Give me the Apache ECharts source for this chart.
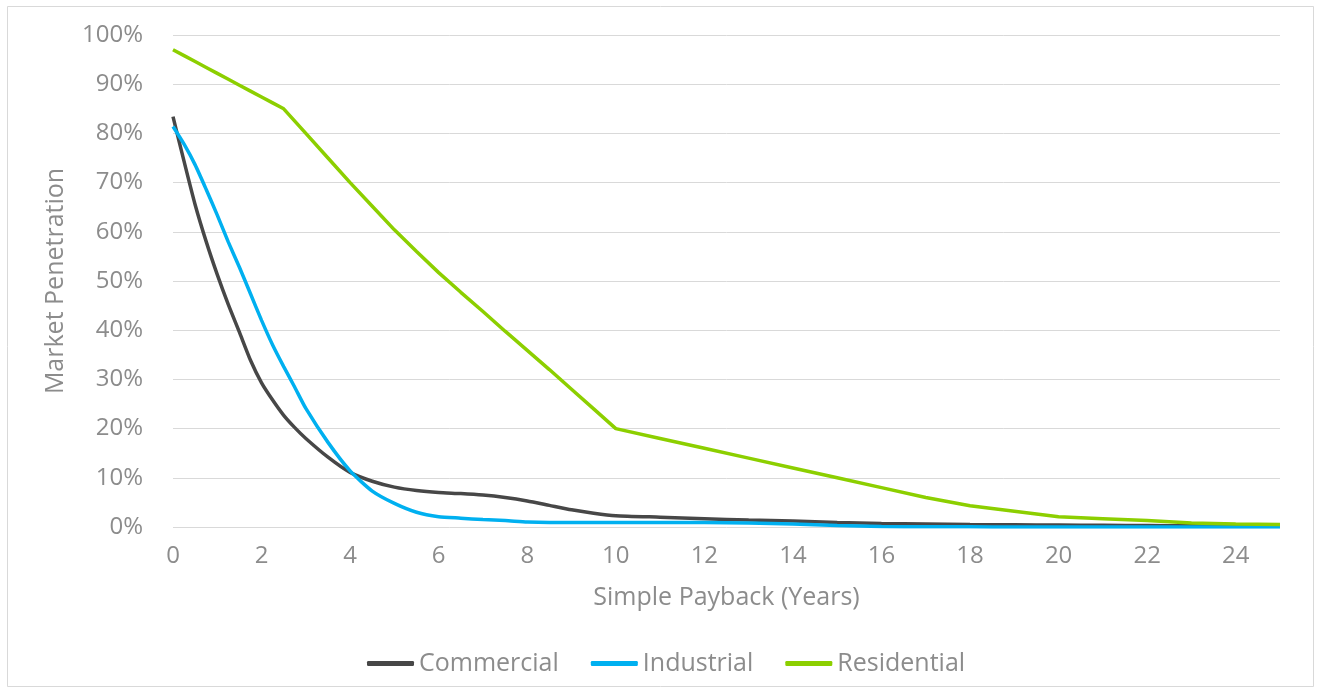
<!DOCTYPE html>
<html>
<head>
<meta charset="utf-8">
<script src="https://cdn.jsdelivr.net/npm/echarts@6/dist/echarts.min.js"></script>
<style>
html,body{margin:0;padding:0;background:#fff;}
#chart{width:1317px;height:692px;}
</style>
</head>
<body>
<div id="chart"></div>
<script>
// Simple payback (years)
const xYears = [0,0.25,0.5,0.75,1,1.25,1.5,1.75,2,2.25,2.5,2.75,3,3.5,4,4.5,5,5.5,6,6.5,7,7.5,8,8.5,9,9.5,10,11,12,13,14,15,16,17,18,19,20,21,22,23,24,25];
// Market penetration (%)
const commercial  = [83.4,74.3,65.5,58,51.3,45.2,39.6,33.9,29.3,25.8,22.7,20.2,18.0,14.2,11.1,9.3,8.1,7.4,7.0,6.8,6.5,6.0,5.3,4.4,3.5,2.8,2.3,2.0,1.7,1.4,1.2,0.9,0.7,0.6,0.5,0.45,0.4,0.35,0.3,0.25,0.2,0.2];
const industrial  = [81.4,77.8,73.6,68.6,63.4,57.9,52.8,47.4,42,37,32.6,28.4,24.1,17.2,11.4,7.3,4.8,3.0,2.1,1.8,1.5,1.3,1.0,0.9,0.9,0.9,0.9,0.9,0.9,0.8,0.6,0.3,0.1,0.05,0.05,0,0,0,0,0,0,0];
const residential = [97,95.8,94.6,93.4,92.2,91,89.8,88.6,87.4,86.2,85,82.5,80,75,70,65.2,60.4,56,51.7,47.7,43.8,39.8,35.9,32,28,24,20,18,16,14,12,10,8,6,4.3,3.2,2.1,1.7,1.3,0.8,0.6,0.5];
const seriesNames = ['Commercial','Industrial','Residential'];
const seriesColors = ['#474747','#00B0F0','#8CCF00'];

const toPairs = arr => xYears.map((x, i) => [x, arr[i]]);
const allData = [commercial, industrial, residential];

const chart = echarts.init(document.getElementById('chart'));
const textColor = '#8C8C8C';
const fontFamily = '"Open Sans", "Noto Sans", sans-serif';
chart.setOption({
  backgroundColor: '#fff',
  animation: false,
  textStyle: { fontFamily: fontFamily },
  graphic: [{
    type: 'rect',
    shape: { x: 7.5, y: 6.5, width: 1306, height: 680 },
    style: { fill: 'none', stroke: '#D9D9D9', lineWidth: 1 },
    silent: true, z: -1
  }],
  grid: { left: 173, right: 37, top: 35, bottom: 165 },
  legend: {
    top: 646,
    left: 362,
    itemWidth: 47,
    itemHeight: 5,
    itemGap: 32,
    icon: 'roundRect',
    textStyle: { color: textColor, fontSize: 25, fontFamily: fontFamily },
    data: seriesNames
  },
  xAxis: {
    type: 'value',
    min: 0, max: 25, interval: 2,
    name: 'Simple Payback (Years)',
    nameLocation: 'middle',
    nameGap: 58,
    nameTextStyle: { color: textColor, fontSize: 25, fontFamily: fontFamily },
    axisLine: { show: false },
    axisTick: { show: false },
    splitLine: { show: false },
    axisLabel: { color: textColor, fontSize: 24, margin: 17, showMaxLabel: false, fontFamily: fontFamily }
  },
  yAxis: {
    type: 'value',
    min: 0, max: 100, interval: 10,
    name: 'Market Penetration',
    nameLocation: 'middle',
    nameGap: 105,
    nameTextStyle: { color: textColor, fontSize: 25, fontFamily: fontFamily },
    axisLine: { show: false },
    axisTick: { show: false },
    splitLine: { lineStyle: { color: '#D9D9D9', width: 1 } },
    axisLabel: { color: textColor, fontSize: 24, margin: 30, formatter: '{value}%', fontFamily: fontFamily }
  },
  series: seriesNames.map((n, i) => ({
    name: n,
    type: 'line',
    data: toPairs(allData[i]),
    showSymbol: false,
    symbol: 'none',
    smooth: i === 2 ? false : 0.2,
    lineStyle: { color: seriesColors[i], width: 3.5 },
    itemStyle: { color: seriesColors[i] },
    z: i === 2 ? 3 : (i === 1 ? 2 : 1)
  }))
});
</script>
</body>
</html>
